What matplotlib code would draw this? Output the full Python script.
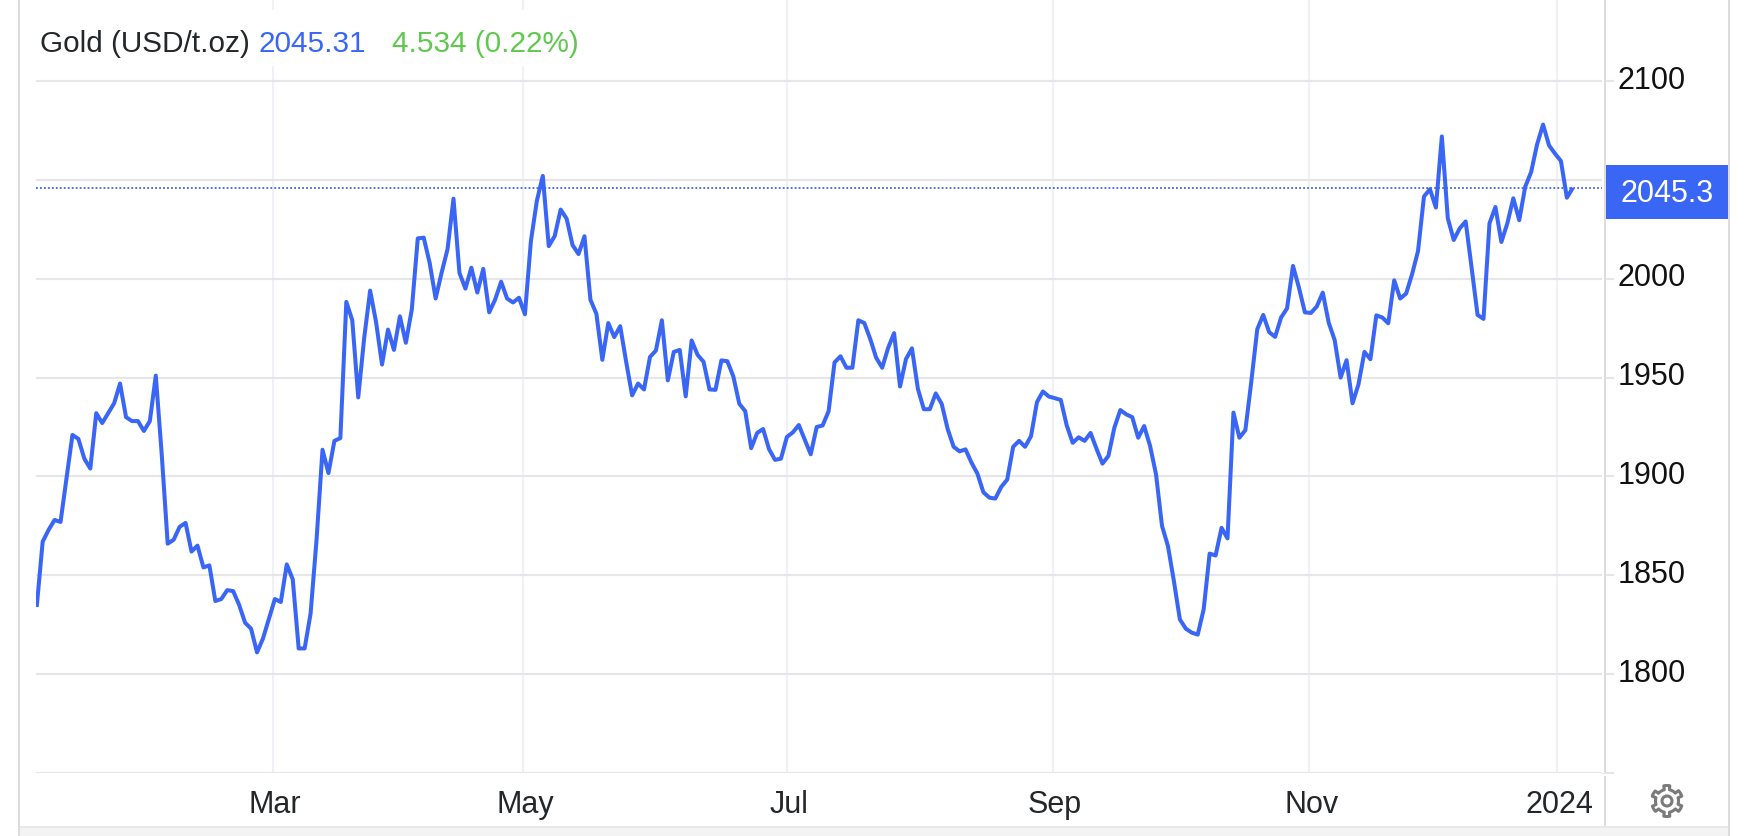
import numpy as np
import matplotlib
matplotlib.use("Agg")
import matplotlib.pyplot as plt
from matplotlib.patches import Rectangle, Polygon, Circle
from matplotlib.transforms import Affine2D, ScaledTranslation

plt.rcParams['font.family'] = ['Liberation Sans', 'DejaVu Sans']

# Daily gold price (trading-day series), Jan 2023 .. Jan 2024
prices = [
    1834, 1867, 1873, 1878, 1877, 1899, 1921, 1919, 1909, 1904,
    1932, 1927, 1932, 1937, 1947, 1930, 1928, 1928, 1923, 1928,
    1951, 1911, 1866, 1868, 1874.5, 1876.5, 1862, 1865, 1854, 1855,
    1837, 1838, 1842.5, 1842, 1835, 1826, 1823, 1811, 1818, 1828,
    1838, 1836.5, 1855.5, 1848, 1813, 1813, 1830.7, 1868, 1913.5, 1901.7,
    1918, 1919.4, 1988.3, 1979, 1940, 1970, 1994, 1978, 1956.6, 1974.3,
    1964, 1981, 1967.6, 1984.5, 2020.4, 2020.8, 2008, 1990, 2003, 2015,
    2040.5, 2003, 1995, 2005.6, 1993, 2005, 1983, 1989.5, 1998.5, 1990,
    1988, 1990.4, 1982, 2019, 2039.4, 2052, 2016.5, 2021.6, 2035, 2030.4,
    2017, 2012.5, 2021.5, 1989.4, 1982.3, 1959, 1977.6, 1970.5, 1976, 1958,
    1941, 1947, 1944, 1960.4, 1963.7, 1979, 1948.6, 1963, 1964, 1940.5,
    1968.8, 1961.5, 1958, 1944, 1943.8, 1958.7, 1958.3, 1950.6, 1936.8, 1933,
    1914.3, 1922, 1924, 1913.8, 1908.4, 1909, 1920, 1922.3, 1926, 1918.6,
    1911.2, 1925, 1925.8, 1933, 1957.7, 1960.8, 1955, 1955, 1979, 1977.6,
    1969.5, 1960, 1955, 1965, 1972.5, 1945.5, 1959.4, 1964.8, 1944.3, 1934,
    1934, 1942, 1936.7, 1924, 1915, 1912.7, 1913.7, 1907, 1901.4, 1892,
    1889.3, 1888.8, 1894.7, 1898.4, 1915, 1918, 1915, 1920.4, 1937.6, 1943,
    1940.4, 1939.6, 1938.7, 1925.8, 1917, 1919.8, 1918, 1922, 1914, 1906.5,
    1910.4, 1924.7, 1933.6, 1931.4, 1930, 1919.6, 1925.5, 1915.4, 1901, 1875,
    1864.8, 1847, 1827.7, 1823, 1821, 1820, 1832.8, 1861, 1860, 1874,
    1868.7, 1932.3, 1919.6, 1923.4, 1948, 1974.5, 1981.7, 1973, 1970.6, 1980.4,
    1985, 2006.5, 1995.5, 1983, 1982.7, 1986, 1993, 1977.8, 1969, 1950,
    1958.8, 1937, 1946.6, 1963, 1959.3, 1981.5, 1980.4, 1977.5, 1999.2, 1990,
    1992.5, 2002.3, 2014, 2041.6, 2045.3, 2036, 2072, 2030.6, 2019.6, 2025.5,
    2029, 2005.6, 1981.7, 1979.7, 2028, 2036.3, 2018.6, 2028, 2040.7, 2029.6,
    2046.5, 2054, 2068, 2078, 2067.5, 2063.3, 2059.6, 2041, 2046,
]
y_ticks = [1750, 1800, 1850, 1900, 1950, 2000, 2050, 2100]
y_labels = ['', '1800', '1850', '1900', '1950', '2000', '', '2100']
month_positions = [39.7, 81.7, 126.0, 170.7, 213.7, 255.4]
month_labels = ['Mar', 'May', 'Jul', 'Sep', 'Nov', '2024']
last_level = 2046
title_name = 'Gold (USD/t.oz)'
title_price = '2045.31'
title_change = '4.534 (0.22%)'
price_tag = '2045.3'

BLUE = '#3a66f6'
GREEN = '#5fc94e'
DARK = '#24272a'
GRID_H = '#e6e6e6'
GRID_V = '#eef2f6'
BORDER = '#dcdcdc'

W, H = 1746, 836
fig = plt.figure(figsize=(W / 100, H / 100), dpi=100, facecolor='white')
px = Affine2D().scale(1, -1).translate(0, H)   # pixel coords, origin top-left

AX_L, AX_R, AX_B = 36, 1602, 773
ax = fig.add_axes([AX_L / W, (H - AX_B) / H, (AX_R - AX_L) / W, AX_B / H], zorder=0)
ax.set_xlim(-0.12, 262.9)
ax.set_ylim(1750, 2141)
ax.set_facecolor('white')
for s in ax.spines.values():
    s.set_visible(False)

ax.set_yticks(y_ticks)
ax.set_yticklabels(y_labels)
ax.yaxis.tick_right()
ax.tick_params(axis='y', length=8.6, width=1.5, color=GRID_H, pad=2.5,
               labelsize=22, labelcolor='#111111')
ax.set_xticks(month_positions)
ax.set_xticklabels(month_labels)
ax.tick_params(axis='x', length=0, pad=12.5, labelsize=22, labelcolor=DARK)
up = ScaledTranslation(0, 0.04, fig.dpi_scale_trans)
for lab in ax.get_yticklabels():
    lab.set_transform(lab.get_transform() + up)
right = ScaledTranslation(0.02, 0, fig.dpi_scale_trans)
for lab in ax.get_xticklabels():
    lab.set_transform(lab.get_transform() + right)

ax.grid(axis='y', color=GRID_H, lw=1.5, zorder=1)
ax.grid(axis='x', color=GRID_V, lw=1.5, zorder=1)
ax.set_axisbelow(True)

ax.axhline(last_level, color=BLUE, lw=1.3, ls=(0, (1, 1.2)), zorder=2)
ax.plot(np.arange(len(prices)), prices, color=BLUE, lw=2.9, zorder=3,
        solid_joinstyle='round', solid_capstyle='butt')


def frect(x0, y0, x1, y1, color, z=3):
    fig.add_artist(Rectangle((x0, y0), x1 - x0, y1 - y0, transform=px,
                             facecolor=color, edgecolor='none', zorder=z))


# header backing, frame, separator
frect(30, 10, 590, 66, 'white', 2)
frect(1602, 0, 1604, 773, 'white', 2)
frect(1604, 0, 1606, 772, BORDER, 3)
frect(1604, 776, 1606, 826, BORDER, 3)
frect(20, 826, 1728, 836, '#f3f3f3', 3)
frect(20, 826, 1728, 828, '#e8e8e8', 4)
frect(18, 0, 20, 836, BORDER, 4)
frect(1728, 0, 1730, 836, BORDER, 4)

# price tag
frect(1606, 165, 1728, 219, BLUE, 5)
fig.text(1667 / W, 1 - 194 / H, price_tag, color='white', fontsize=22,
         ha='center', va='center', zorder=6)

# header text
base = 1 - 52 / H
fig.text(40 / W, base, title_name, color=DARK, fontsize=21.4, va='baseline', zorder=6)
fig.text(258 / W, base, title_price, color=BLUE, fontsize=21.4, va='baseline', zorder=6)
fig.text(392 / W, base, title_change, color=GREEN, fontsize=21.4, va='baseline', zorder=6)

# settings gear
cx, cy = 1667, 801
ang = np.linspace(0, 2 * np.pi, 6 * 40, endpoint=False) - np.pi / 2
phase = ((ang + np.pi / 2 + np.pi / 6) % (np.pi / 3)) / (np.pi / 3)
rad = np.where(np.abs(phase - 0.5) < 0.2, 15.5, 11.5)
gear = np.column_stack([cx + rad * np.cos(ang), cy + rad * np.sin(ang)])
fig.add_artist(Polygon(gear, closed=True, transform=px, facecolor='none',
                       edgecolor='#7b7b7b', lw=2.2, joinstyle='round', zorder=6))
fig.add_artist(Circle((cx, cy), 5, transform=px, facecolor='none',
                      edgecolor='#7b7b7b', lw=2.2, zorder=6))

fig.savefig('out.png', dpi=100, facecolor='white')
